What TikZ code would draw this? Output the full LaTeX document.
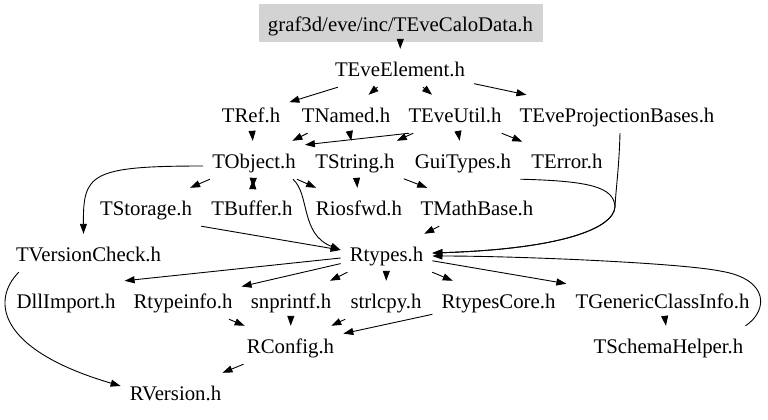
\documentclass[tikz,border=0pt]{standalone}
\usepackage{fontspec}
\setmainfont{Liberation Serif}
\usetikzlibrary{arrows.meta}
\definecolor{hdrgray}{HTML}{D3D3D3}
\begin{document}
\begin{tikzpicture}[x=1bp,y=1bp,
  file/.style={inner xsep=9bp, inner ysep=0pt, minimum height=38bp,
    text height=20bp, text depth=4bp, font=\fontsize{20.8bp}{24bp}\selectfont},
  hdr/.style={file, fill=hdrgray, minimum width=284bp},
  edge/.style={-{Triangle[length=10bp,width=7bp]}, line width=0.9bp, black}]
\useasboundingbox (0,0) rectangle (768,419);
% nodes
\node[hdr]  (calo)      at (400.5,396) {graf3d/eve/inc/TEveCaloData.h};
\node[file] (elem)      at (400,351)   {TEveElement.h};
\node[file] (tref)      at (251,305)   {TRef.h};
\node[file] (tnamed)    at (346,305)   {TNamed.h};
\node[file] (eveutil)   at (455,305)   {TEveUtil.h};
\node[file] (projb)     at (617,305)   {TEveProjectionBases.h};
\node[file] (tobject)   at (254,259)   {TObject.h};
\node[file] (tstring)   at (355,259)   {TString.h};
\node[file] (guitypes)  at (463,259)   {GuiTypes.h};
\node[file] (terror)    at (567,259)   {TError.h};
\node[file] (tstorage)  at (146,212)   {TStorage.h};
\node[file] (tbuffer)   at (252,212)   {TBuffer.h};
\node[file] (riosfwd)   at (359,212)   {Riosfwd.h};
\node[file] (tmathbase) at (477,212)   {TMathBase.h};
\node[file] (tversion)  at (88.5,166)  {TVersionCheck.h};
\node[file] (rtypes)    at (386.5,166) {Rtypes.h};
\node[file] (dllimport) at (66,119)    {DllImport.h};
\node[file] (rtypeinfo) at (183,119)   {Rtypeinfo.h};
\node[file] (snprintf)  at (291,119)   {snprintf.h};
\node[file] (strlcpy)   at (386,119)   {strlcpy.h};
\node[file] (rtypescore) at (498.5,119) {RtypesCore.h};
\node[file] (tgeneric)  at (662.5,119) {TGenericClassInfo.h};
\node[file] (rconfig)   at (290.5,74)  {RConfig.h};
\node[file] (tschema)   at (668.5,74)  {TSchemaHelper.h};
\node[file] (rversion)  at (175.5,27)  {RVersion.h};
\coordinate (merge) at (615,212);
\coordinate (loop) at (720,148);
% edges
\draw[edge] (calo) -- (elem);
\draw[edge] (elem) -- (tref);
\draw[edge] (elem) -- (tnamed);
\draw[edge] (elem) -- (eveutil);
\draw[edge] (elem) -- (projb);
\draw[edge] (tref) -- (tobject);
\draw[edge] (tnamed) -- (tobject);
\draw[edge] (tnamed) -- (tstring);
\draw[edge] ([xshift=10bp]eveutil.south west) -- ([yshift=-4bp]tobject.north east);
\draw[edge] (eveutil) -- (tstring);
\draw[edge] (eveutil) -- (guitypes);
\draw[edge] (eveutil) -- (terror);
\draw[edge] ([xshift=3bp]projb.south) .. controls (619,250) and (616,232) .. (merge)
  .. controls (613,190) and (560,170) .. (rtypes.east);
\draw[edge] (guitypes.south east) .. controls (590,238) and (614,232) .. (merge)
  .. controls (613,190) and (560,170) .. (rtypes.east);
\draw[edge] ([yshift=-6bp]tobject.west) .. controls (90,253) and (83,245) .. ([xshift=-5bp]tversion.north);
\draw[edge] (tobject) -- (tstorage);
\draw[edge] (tobject) -- (tbuffer);
\draw[edge] (tbuffer) -- (tobject);
\draw[edge] (tobject) -- (riosfwd);
\draw[edge] ([xshift=-12bp]tobject.south east) .. controls (310,225) and (300,185) .. ([yshift=3bp]rtypes.west);
\draw[edge] (tstring) -- (riosfwd);
\draw[edge] (tstring) -- (tmathbase);
\draw[edge] (tstorage.south east) -- ([yshift=3bp]rtypes.west);
\draw[edge] (tmathbase) -- (rtypes);
\draw[edge] ([xshift=12bp]tversion.south west) .. controls (-8,120) and (-5,70) .. ([yshift=6bp]rversion.west);
\draw[edge] ([yshift=-5bp]rtypes.west) -- (dllimport.north east);
\draw[edge] (rtypes) -- (rtypeinfo);
\draw[edge] (rtypes) -- (snprintf);
\draw[edge] (rtypes) -- (strlcpy);
\draw[edge] (rtypes) -- (rtypescore);
\draw[edge] (rtypes) -- (tgeneric);
\draw[edge] (rtypeinfo) -- (rconfig);
\draw[edge] (snprintf) -- (rconfig);
\draw[edge] (strlcpy) -- (rconfig);
\draw[edge] (rtypescore) -- (rconfig);
\draw[edge] (tgeneric) -- (tschema);
\draw[edge] ([xshift=-7bp]tschema.north east) .. controls (768,108) and (770,140) .. (loop)
  .. controls (680,156) and (520,163) .. ([yshift=-3bp]rtypes.east);
\draw[edge] (rconfig) -- (rversion);
\end{tikzpicture}
\end{document}
